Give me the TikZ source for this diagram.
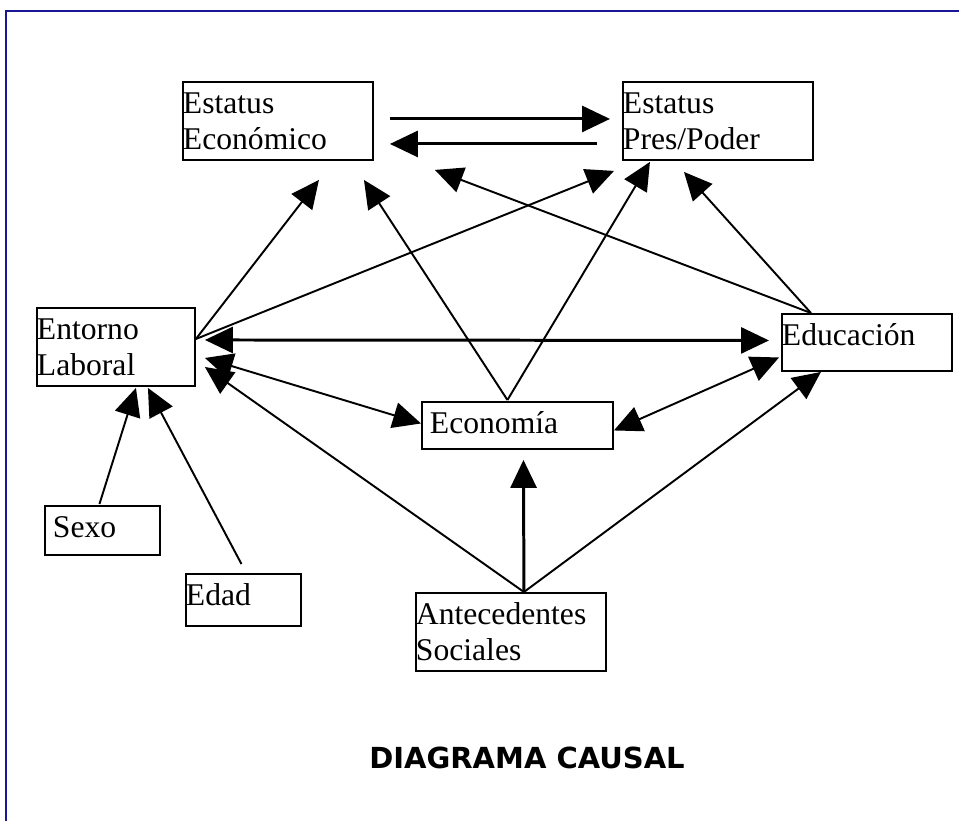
\documentclass[tikz,border=0pt]{standalone}
\usepackage{fontspec}
\setmainfont{Liberation Serif}
\newfontfamily\titulofont{DejaVu Sans}
\usetikzlibrary{arrows.meta, calc}

\definecolor{marco}{RGB}{24,24,150}
\newcommand{\caja}[3]{\parbox[c][#2][t]{#1}{\vspace{3pt}\strut #3}}

\begin{document}
\begin{tikzpicture}[x=0.02cm, y=-0.02cm,
  flecha/.style={-{Triangle[length=0.56cm,width=0.52cm]}, line width=1.1pt},
  doble/.style={{Triangle[length=0.56cm,width=0.52cm]}-{Triangle[length=0.56cm,width=0.52cm]}, line width=1.1pt},
  gruesa/.style={line width=1.7pt},
  var node/.style={draw, line width=1.1pt, inner sep=0pt, anchor=north west, font=\fontsize{18}{21}\selectfont}]
  \useasboundingbox (0,0) rectangle (959,821);
  \draw[marco, line width=1.2pt] (6,821) -- (6,11) -- (959,11);

  % variables
  \node[var node] (econ) at (182,81) {\caja{3.8cm}{1.56cm}{Estatus\\Económico}};
  \node[var node] (poder) at (622,81) {\caja{3.8cm}{1.56cm}{Estatus\\Pres/Poder}};
  \node[var node] (ent) at (36,307) {\caja{3.16cm}{1.56cm}{Entorno\\Laboral}};
  \node[var node] (edu) at (781,313) {\caja{3.4cm}{1.14cm}{Educación}};
  \node[var node] (eco) at (421,401) {\caja{3.82cm}{0.94cm}{\hspace{0.16cm}Economía}};
  \node[var node] (sexo) at (44,505) {\caja{2.3cm}{0.98cm}{\hspace{0.16cm}Sexo}};
  \node[var node] (edad) at (185,573) {\caja{2.3cm}{1.04cm}{Edad}};
  \node[var node] (ant) at (415,592) {\caja{3.8cm}{1.56cm}{Antecedentes\\Sociales}};
  \node (titulo) at (527,758) {\titulofont\bfseries\fontsize{16.5}{20}\selectfont DIAGRAMA CAUSAL};

  % relaciones
  \draw[flecha, gruesa] ($(econ.east)+(16,-2)$) -- ($(poder.west)+(-12,-2)$);
  \draw[flecha, gruesa] ($(poder.west)+(-25,23)$) -- ($(econ.east)+(16,23)$);
  \draw[flecha] ($(ent.east)+(0,-8)$) -- ($(econ.south)+(41,19)$);
  \draw[flecha] ($(ent.east)+(0,-8)$) -- ($(poder.south west)+(-8,10)$);
  \draw[flecha] ($(eco.north)+(-10,-1)$) -- ($(econ.south)+(86,19)$);
  \draw[flecha] ($(eco.north)+(-10,-1)$) -- ($(poder.south)+(-68,1)$);
  \draw[flecha] ($(edu.north)+(-56,0)$) -- ($(econ.south east)+(61,9)$);
  \draw[flecha] ($(edu.north)+(-56,0)$) -- ($(poder.south)+(-34,11)$);
  \draw[doble, gruesa] ($(ent.east)+(9,-7)$) -- ($(edu.west)+(-12,-2)$);
  \draw[doble] ($(ent.east)+(9,11)$) -- ($(eco.west)+(0,-2)$);
  \draw[doble] ($(eco.east)+(0,5)$) -- ($(edu.west)+(-2,15)$);
  \draw[flecha] ($(ant.north)+(13,0)$) -- ($(ent.east)+(9,20)$);
  \draw[flecha, gruesa] ($(ant.north)+(13,0)$) -- ($(eco.south)+(6,10)$);
  \draw[flecha] ($(ant.north)+(13,0)$) -- ($(edu.south)+(-46,0)$);
  \draw[flecha] ($(sexo.north)+(-3,-1)$) -- ($(ent.south)+(20,1)$);
  \draw[flecha] ($(edad.north)+(-2,-9)$) -- ($(ent.south)+(32,1)$);
\end{tikzpicture}
\end{document}
